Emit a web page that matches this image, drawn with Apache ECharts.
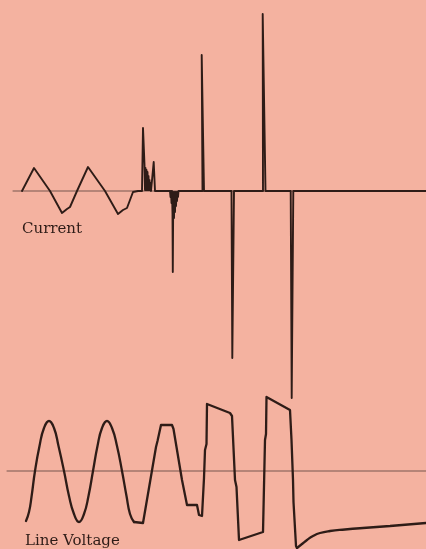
<!DOCTYPE html>
<html>
<head>
<meta charset="utf-8">
<script src="https://cdn.jsdelivr.net/npm/echarts@6/dist/echarts.min.js"></script>
<style>
  html, body { margin: 0; padding: 0; background: #F4B2A0; }
  #chart { width: 426px; height: 549px; }
</style>
</head>
<body>
<div id="chart"></div>
<script>
  // trace units: x = time divisions, y = deflection divisions (10 per cm of trace)
  var currentTrace = [
    [2.2, 0], [3.4, 2.3], [5.0, 0], [6.2, -2.2], [6.7, -1.8], [7.0, -1.6], [7.7, 0],
    [8.8, 2.4], [10.5, 0], [11.8, -2.3], [12.3, -1.9], [12.7, -1.7], [13.3, -0.1],
    [13.8, 0], [14.2, 0], [14.3, 6.3], [14.45, 2.6], [14.5, 0.1], [14.55, 2.3], [14.6, 0.1],
    [14.65, 2.1], [14.7, 0.1], [14.75, 1.9], [14.8, 0.1], [14.85, 1.5], [14.9, 0.1],
    [14.95, 1.1], [15.0, 0.1], [15.05, 0.8], [15.1, 0], [15.2, 0], [15.37, 2.9], [15.5, 0],
    [17.0, 0], [17.05, -0.6], [17.1, 0], [17.15, -1.2], [17.2, 0], [17.25, -2.3], [17.28, -8.1],
    [17.31, -2.9], [17.35, -0.1], [17.4, -2.7], [17.45, -0.1], [17.5, -2.1], [17.55, -0.1],
    [17.6, -1.5], [17.65, -0.1], [17.7, -1.0], [17.75, -0.1], [17.8, -0.6], [17.85, 0],
    [20.25, 0], [20.17, 13.6], [20.4, 0],
    [23.15, 0], [23.23, -16.7], [23.4, 0],
    [26.3, 0], [26.27, 17.7], [26.55, 0],
    [29.07, 0], [29.17, -20.7], [29.33, 0],
    [42.6, 0]
  ];
  var currentAxis = [[1.3, 0], [42.6, 0]];

  // line voltage: steady sine part, switching part, decay tail
  var voltageSine = [
    [2.6, -5.0], [2.9, -4.1], [3.15, -2.6], [3.5, 0], [3.95, 2.5], [4.4, 4.3], [4.9, 5.0],
    [5.4, 4.3], [5.85, 2.5], [6.4, 0], [6.9, -2.5], [7.4, -4.3], [7.9, -5.1], [8.4, -4.3],
    [8.85, -2.5], [9.3, 0], [9.75, 2.5], [10.2, 4.3], [10.7, 5.0], [11.2, 4.3], [11.7, 2.5],
    [12.2, 0], [12.65, -2.5], [13.0, -4.3], [13.4, -5.1]
  ];
  var voltageStep = [
    [13.4, -5.1], [14.3, -5.2], [15.6, 2.4], [15.75, 3.0], [16.1, 4.6], [17.2, 4.6],
    [17.35, 4.2], [18.2, -0.9], [18.7, -3.4], [19.7, -3.4], [19.9, -4.4], [20.2, -4.5],
    [20.4, -0.7], [20.5, 2.1], [20.65, 2.7], [20.7, 6.7], [23.0, 5.8], [23.2, 5.5],
    [23.5, -0.9], [23.65, -1.6], [23.9, -6.9], [24.1, -7.0], [26.3, -6.1], [26.45, -5.9],
    [26.5, 3.1], [26.6, 3.7], [26.65, 7.4], [26.8, 7.3], [29.0, 6.1], [29.15, 3.1],
    [29.3, -0.9], [29.35, -3.1], [29.6, -7.5], [29.7, -7.7]
  ];
  var voltageTail = [
    [29.7, -7.7], [30.2, -7.3], [30.7, -6.9], [31.3, -6.5], [32.0, -6.2], [33.0, -6.0],
    [34.5, -5.85], [36.3, -5.7], [39.0, -5.5], [42.6, -5.2]
  ];
  var voltageAxis = [[0.7, 0], [42.6, 0]];

  var labels = ['Current', 'Line Voltage'];

  var ink = '#2e1c17';
  var axisInk = '#76574e';

  function trace(name, data, yIndex, width, smooth, color) {
    return {
      name: name,
      type: 'line',
      yAxisIndex: yIndex,
      data: data,
      smooth: smooth,
      showSymbol: false,
      symbol: 'none',
      silent: true,
      lineStyle: { color: color, width: width, join: 'round', cap: 'round' }
    };
  }

  var chart = echarts.init(document.getElementById('chart'));
  var option = {
    backgroundColor: '#F4B2A0',
    animation: false,
    grid: { left: 0, right: 0, top: 0, bottom: 0 },
    xAxis: { type: 'value', min: 0, max: 42.6, show: false },
    yAxis: [
      { type: 'value', min: -35.8, max: 19.1, show: false },
      { type: 'value', min: -7.8, max: 47.1, show: false }
    ],
    graphic: [
      { type: 'text', left: 22, top: 222, style: { text: labels[0], font: '15px "DejaVu Serif"', fill: ink } },
      { type: 'text', left: 25, top: 534, style: { text: labels[1], font: '15px "DejaVu Serif"', fill: ink } }
    ],
    series: [
      trace('currentAxis', currentAxis, 0, 1, false, axisInk),
      trace('voltageAxis', voltageAxis, 1, 1, false, axisInk),
      trace('Current', currentTrace, 0, 1.9, false, ink),
      trace('Line Voltage', voltageSine, 1, 2.3, true, ink),
      trace('Line Voltage', voltageStep, 1, 2.3, false, ink),
      trace('Line Voltage', voltageTail, 1, 2.3, true, ink)
    ]
  };
  chart.setOption(option);
</script>
</body>
</html>
